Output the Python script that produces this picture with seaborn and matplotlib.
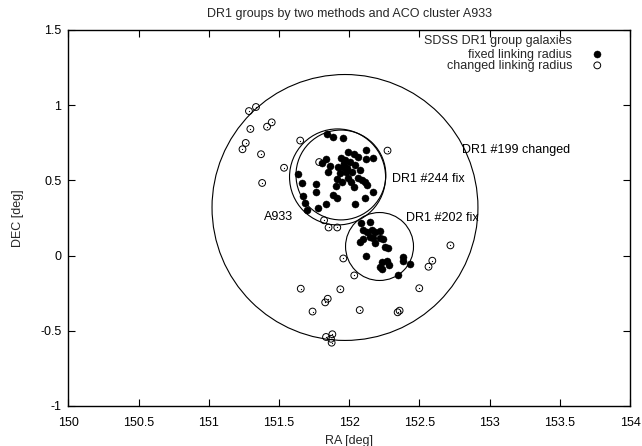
import numpy as np
import pandas as pd
import matplotlib
matplotlib.use("Agg")
import matplotlib.pyplot as plt
from matplotlib.patches import Ellipse
import seaborn as sns

# ---------------- data ----------------
# fixed linking radius galaxies (RA, DEC in deg)
fixed_ra = [151.845, 151.888, 151.954, 152.120, 152.172, 152.118, 151.994, 152.034,
            152.061, 151.970, 151.835, 151.808, 151.851, 151.958, 151.935, 151.977,
            152.041, 151.994, 151.947, 151.915, 151.633, 151.664, 151.760, 151.767,
            151.673, 151.685, 151.696, 151.778, 151.837, 151.885, 151.911, 152.043,
            152.110, 152.168, 152.129, 152.113, 152.089, 152.065, 152.013, 152.034,
            151.963, 151.984, 152.006, 151.920, 151.942, 152.020, 151.906, 151.863,
            152.077,
            152.082, 152.148, 152.100, 152.125, 152.160, 152.184, 152.219, 152.148,
            152.172, 152.096, 152.077, 152.219, 152.243, 152.255, 152.279, 152.120,
            152.231, 152.219, 152.231, 152.267, 152.286, 152.381, 152.385, 152.433,
            152.350, 152.184]
fixed_dec = [0.809, 0.789, 0.779, 0.702, 0.647, 0.639, 0.687, 0.674,
             0.658, 0.636, 0.640, 0.614, 0.558, 0.591, 0.547, 0.558,
             0.602, 0.514, 0.491, 0.507, 0.543, 0.486, 0.476, 0.423,
             0.396, 0.348, 0.300, 0.316, 0.341, 0.400, 0.381, 0.340,
             0.381, 0.420, 0.469, 0.491, 0.503, 0.514, 0.491, 0.453,
             0.616, 0.582, 0.622, 0.589, 0.649, 0.556, 0.463, 0.596,
             0.569,
             0.215, 0.225, 0.170, 0.159, 0.170, 0.155, 0.164, 0.126,
             0.115, 0.110, 0.088, 0.115, 0.110, 0.059, 0.053, -0.001,
             -0.041, -0.074, -0.091, -0.036, -0.063, -0.007, -0.036, -0.056,
             -0.129, 0.084]

# changed linking radius galaxies
changed_ra = [151.286, 151.336, 151.296, 151.415, 151.448, 151.263, 151.240, 151.372,
              151.651, 151.536, 151.380, 151.786, 152.273, 151.821, 151.853, 151.915,
              151.958, 152.036, 151.655, 151.937, 151.847, 151.829, 151.739, 152.075,
              152.359, 152.345, 152.499, 152.565, 152.592, 152.721, 151.835, 151.880,
              151.870, 151.875]
changed_dec = [0.961, 0.988, 0.842, 0.857, 0.886, 0.749, 0.707, 0.674,
               0.765, 0.584, 0.483, 0.622, 0.698, 0.235, 0.187, 0.187,
               -0.019, -0.132, -0.220, -0.224, -0.287, -0.311, -0.372, -0.362,
               -0.366, -0.377, -0.217, -0.074, -0.034, 0.068, -0.541, -0.523,
               -0.553, -0.579]

# group / cluster circles: centre and radius (deg, RA units)
circle_ra = [151.970, 151.917, 151.941, 152.216]
circle_dec = [0.320, 0.523, 0.536, 0.0605]
circle_r = [0.947, 0.342, 0.320, 0.242]

# labels
label_text = ["DR1 #199 changed", "DR1 #244 fix", "DR1 #202 fix", "A933"]
label_ra = [152.803, 152.305, 152.405, 151.393]
label_dec = [0.702, 0.509, 0.250, 0.257]

x_ticks = [150, 150.5, 151, 151.5, 152, 152.5, 153, 153.5, 154]
y_ticks = [-1, -0.5, 0, 0.5, 1, 1.5]

# ---------------- plot ----------------
sns.set_theme(style="ticks")
plt.rcParams["font.family"] = ["Liberation Sans", "DejaVu Sans"]
plt.rcParams["axes.linewidth"] = 1.0

W, H = 642, 446
fig = plt.figure(figsize=(W / 100, H / 100), dpi=100)
left, right, top, bottom = 68.4, 630.0, 30.0, 406.0
ax = fig.add_axes([left / W, 1 - bottom / H, (right - left) / W, (bottom - top) / H])
ax.set_facecolor("white")
fig.patch.set_facecolor("white")

xlim = (150, 154)
ylim = (-1, 1.5)
ax.set_xlim(*xlim)
ax.set_ylim(*ylim)

# circles round on screen: scale height by px/deg ratio
px_per_x = (right - left) / (xlim[1] - xlim[0])
px_per_y = (bottom - top) / (ylim[1] - ylim[0])
ratio = px_per_x / px_per_y
for cra, cdec, cr in zip(circle_ra, circle_dec, circle_r):
    ax.add_patch(Ellipse((cra, cdec), 2 * cr, 2 * cr * ratio, fill=False,
                         edgecolor="black", linewidth=0.8))

fixed_df = pd.DataFrame({"RA": fixed_ra, "DEC": fixed_dec})
changed_df = pd.DataFrame({"RA": changed_ra, "DEC": changed_dec})

sns.scatterplot(data=fixed_df, x="RA", y="DEC", ax=ax, marker="o", s=26,
                color="black", edgecolor="black", linewidth=0.3,
                label="fixed linking radius", zorder=3)
sns.scatterplot(data=changed_df, x="RA", y="DEC", ax=ax, marker="o", s=24,
                facecolor="none", edgecolor="black", linewidth=0.7,
                label="changed linking radius", zorder=3)
ax.scatter(changed_df["RA"], changed_df["DEC"], s=0.8, color="black",
           linewidths=0, zorder=4)

for t, lra, ldec in zip(label_text, label_ra, label_dec):
    ax.text(lra, ldec, t, fontsize=9, ha="left", va="center", color="black")

ax.set_xticks(x_ticks)
ax.set_xticklabels([f"{v:g}" for v in x_ticks])
ax.set_yticks(y_ticks)
ax.set_yticklabels([f"{v:g}" for v in y_ticks])
ax.tick_params(direction="in", length=5, width=0.8, top=True, right=True,
               labelsize=9, colors="black")
ax.tick_params(axis="x", pad=8)
ax.tick_params(axis="y", pad=5)
for s in ax.spines.values():
    s.set_visible(True)
    s.set_color("black")

ax.set_xlabel("RA [deg]", fontsize=9, labelpad=4)
ax.set_ylabel("DEC [deg]", fontsize=9, labelpad=12)
ax.set_title("DR1 groups by two methods and ACO cluster A933", fontsize=9, pad=9)

# legend with separate right-aligned title
handles, labels = ax.get_legend_handles_labels()
leg = ax.legend(handles, labels, loc="upper right", bbox_to_anchor=(0.964, 0.967),
                markerfirst=False, frameon=False, fontsize=9, handletextpad=1.5,
                labelspacing=-0.08, borderpad=0, handlelength=1.0)
ax.text(0.8967, 0.9707, "SDSS DR1 group galaxies", transform=ax.transAxes,
        ha="right", va="center", fontsize=9)

fig.savefig("out.png", dpi=100)
